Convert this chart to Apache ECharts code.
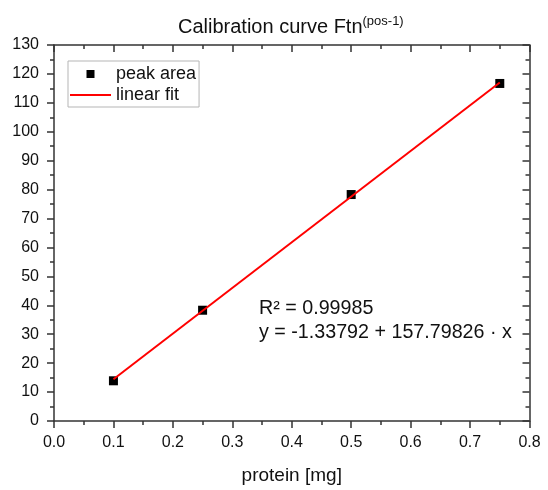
<!DOCTYPE html>
<html>
<head>
<meta charset="utf-8">
<script src="https://cdn.jsdelivr.net/npm/echarts@6/dist/echarts.min.js"></script>
<style>
  html, body { margin: 0; padding: 0; background: #fff; }
  #chart { width: 548px; height: 490px; }
</style>
</head>
<body>
<div id="chart"></div>
<script>
// measured points (protein mg -> peak area)
var proteinMg = [0.1, 0.25, 0.5, 0.75];
var peakArea = [13.9, 38.3, 78.3, 116.7];
// linear fit ends
var fitX = [0.1, 0.75];
var fitY = [14.44, 117.01];
var fitLabels = ['R\u00b2 = 0.99985', 'y = -1.33792 + 157.79826 \u00b7 x'];

var FONT = 'Liberation Sans, Arial, sans-serif';
var AX = '#333';

function pairs(xs, ys) {
    return xs.map(function (x, i) { return [x, ys[i]]; });
}

function mainAxis(pos, min, max, step, margin) {
    return {
        type: 'value', position: pos, min: min, max: max, interval: step,
        axisLine: { show: true, onZero: false, lineStyle: { color: AX, width: 1.5 } },
        axisTick: { show: true, inside: false, length: 7, lineStyle: { color: AX, width: 1.5 } },
        minorTick: { show: true, splitNumber: 2, length: 4, lineStyle: { color: AX, width: 1.5 } },
        axisLabel: { show: true, margin: margin, fontSize: 16, color: '#111', fontFamily: FONT },
        splitLine: { show: false }
    };
}
function mirrorAxis(pos, min, max, step) {
    return {
        type: 'value', position: pos, min: min, max: max, interval: step,
        axisLine: { show: true, onZero: false, lineStyle: { color: AX, width: 1.5 } },
        axisTick: { show: true, inside: true, length: 7, lineStyle: { color: AX, width: 1.5 } },
        minorTick: { show: true, splitNumber: 2, length: 4, lineStyle: { color: AX, width: 1.5 } },
        axisLabel: { show: false },
        splitLine: { show: false }
    };
}

var xBottom = mainAxis('bottom', 0, 0.8, 0.1, 14);
xBottom.axisLabel.formatter = function (v) { return v.toFixed(1); };
xBottom.name = 'protein [mg]';
xBottom.nameLocation = 'middle';
xBottom.nameGap = 45;
xBottom.nameTextStyle = { fontSize: 19, color: '#111', fontFamily: FONT };

var option = {
    animation: false,
    backgroundColor: '#fff',
    title: {
        text: '{a|Calibration curve Ftn}{b|(pos-1)}',
        left: 178,
        top: 15,
        padding: 0,
        textStyle: {
            fontWeight: 'normal',
            rich: {
                a: { fontSize: 20, lineHeight: 24, fontWeight: 'normal', color: '#111', fontFamily: FONT },
                b: { fontSize: 13, lineHeight: 13, fontWeight: 'normal', verticalAlign: 'top', color: '#111', fontFamily: FONT }
            }
        }
    },
    grid: { left: 54, right: 18.5, top: 45, bottom: 64.3, containLabel: false },
    legend: {
        orient: 'vertical',
        left: 68, top: 61,
        padding: [3, 3, 2, 2],
        itemWidth: 41, itemHeight: 8, itemGap: 1,
        borderColor: '#b5b5b5', borderWidth: 1,
        textStyle: { fontSize: 18, lineHeight: 20, color: '#111', fontFamily: FONT },
        data: [
            { name: 'peak area', icon: 'path://M0,0H1V1H0Z' },
            { name: 'linear fit', icon: 'path://M0,0H41V2H0Z' }
        ]
    },
    xAxis: [xBottom, mirrorAxis('top', 0, 0.8, 0.1)],
    yAxis: [mainAxis('left', 0, 130, 10, 15), mirrorAxis('right', 0, 130, 10)],
    graphic: fitLabels.map(function (t, i) {
        return {
            type: 'text', left: 259, top: 298.5 + i * 24.5,
            style: { text: t, fontSize: 19.7, fill: '#111', fontFamily: FONT }
        };
    }),
    series: [
        {
            name: 'peak area', type: 'scatter',
            symbol: 'rect', symbolSize: 9,
            itemStyle: { color: '#000', opacity: 1 },
            data: pairs(proteinMg, peakArea),
            z: 2
        },
        {
            name: 'linear fit', type: 'line',
            symbol: 'none',
            lineStyle: { color: '#ff0000', width: 2 },
            itemStyle: { color: '#ff0000' },
            data: pairs(fitX, fitY),
            z: 3
        }
    ]
};

var chart = echarts.init(document.getElementById('chart'));
chart.setOption(option);
</script>
</body>
</html>
